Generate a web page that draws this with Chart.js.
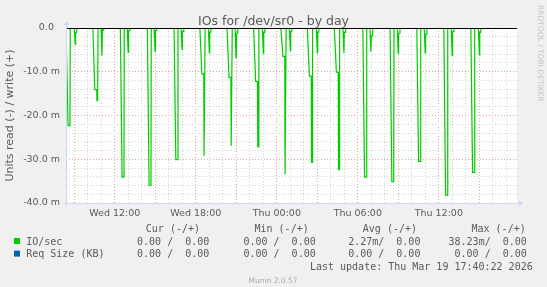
<!DOCTYPE html>
<html>
<head>
<meta charset="utf-8">
<script src="https://cdn.jsdelivr.net/npm/chart.js@4.4.1/dist/chart.umd.min.js"></script>
<style>
html, body { margin: 0; padding: 0; background: #f0f0f0; }
canvas { display: block; }
</style>
</head>
<body>
<canvas id="grafico" width="547" height="287"></canvas>
<script>
// horas contadas desde el miércoles 00:00
const horaInicio = 8.385;
const horaFin = 41.79;

// picos grandes de lectura (valores en m)
const horasPico = [8.63, 10.70, 12.63, 14.63, 16.61, 18.63, 20.64, 22.61, 24.63, 26.59, 28.59, 30.59, 32.61, 34.59, 36.59, 38.59];
const valoresEscalon = [0, 14.1, 0, 0, 0, 10.5, 11.3, 12.2, 6.5, 11.0, 10.1, 0, 0, 0, 0, 0];
const valoresPico = [22.3, 16.6, 34.1, 36.0, 30.1, 29.2, 26.9, 27.1, 33.4, 30.7, 32.4, 34.1, 35.1, 30.5, 38.2, 33.0];

// picos chicos que siguen a cada pico grande
const horasChico = [9.07, 11.05, 12.99, 14.98, 16.98, 19.00, 20.98, 23.00, 25.00, 27.00, 28.97, 30.97, 32.99, 34.99, 36.99, 39.00];
const valoresChico = [3.7, 6.3, 5.6, 5.3, 4.9, 5.7, 6.7, 5.8, 5.2, 5.7, 5.7, 5.4, 5.8, 5.7, 6.3, 6.1];
const valoresCola = [1.0, 0.5, 0.6, 0.6, 0.8, 1.0, 1.2, 1.0, 0.8, 1.0, 1.0, 1.8, 1.2, 1.4, 0.8, 1.0];

const horasEtiqueta = [12, 18, 24, 30, 36];
const etiquetasX = ['Wed 12:00', 'Wed 18:00', 'Thu 00:00', 'Thu 06:00', 'Thu 12:00'];

const nombresLeyenda = ['IO/sec', 'Req Size (KB)'];
const coloresLeyenda = ['#00cc00', '#0066b3'];
const columnasLeyenda = ['Cur (-/+)', 'Min (-/+)', 'Avg (-/+)', 'Max (-/+)'];
const valoresCur = ['0.00 /  0.00', '0.00 /  0.00'];
const valoresMin = ['0.00 /  0.00', '0.00 /  0.00'];
const valoresAvg = ['2.27m/  0.00', '0.00 /  0.00'];
const valoresMax = ['38.23m/  0.00', '0.00 /  0.00'];
const ultimaActualizacion = 'Last update: Thu Mar 19 17:40:22 2026';

const fuente = 'DejaVu Sans';
const fuenteMono = 'DejaVu Sans Mono';
const colorTexto = '#5a5a5a';

// Se arma la serie de lectura (se dibuja en negativo)
const puntos = [{ x: horaInicio, y: 0 }];
horasPico.forEach((p, i) => {
    if (valoresEscalon[i] > 0) {
        puntos.push(
            { x: p - 0.33, y: 0 },
            { x: p - 0.18, y: -valoresEscalon[i] },
            { x: p - 0.04, y: -valoresEscalon[i] },
            { x: p - 0.02, y: -valoresPico[i] },
            { x: p + 0.03, y: -valoresPico[i] },
            { x: p + 0.06, y: 0 }
        );
    } else {
        puntos.push(
            { x: p - 0.22, y: 0 },
            { x: p - 0.09, y: -valoresPico[i] },
            { x: p + 0.05, y: -valoresPico[i] },
            { x: p + 0.07, y: 0 }
        );
    }
    const s = horasChico[i];
    puntos.push(
        { x: s - 0.07, y: 0 },
        { x: s, y: -valoresChico[i] },
        { x: s + 0.03, y: -valoresCola[i] },
        { x: s + 0.10, y: -valoresCola[i] },
        { x: s + 0.13, y: 0 }
    );
});
puntos.push({ x: horaFin, y: 0 });

const colorGrid = '#d4d4d4';
const colorGridMayor = '#eaa4a4';
const colorEje = '#cfd6f8';

const fondo = {
    id: 'fondo',
    beforeDraw(chart) {
        const { ctx, chartArea } = chart;
        ctx.save();
        ctx.fillStyle = '#f0f0f0';
        ctx.fillRect(0, 0, chart.width, chart.height);
        ctx.fillStyle = '#ffffff';
        ctx.fillRect(chartArea.left, chartArea.top, chartArea.right - chartArea.left, chartArea.bottom - chartArea.top);
        ctx.restore();
    }
};

const decoracion = {
    id: 'decoracion',
    afterDatasetsDraw(chart) {
        const { ctx, chartArea } = chart;
        const y0 = Math.round(chart.scales.y.getPixelForValue(0)) + 0.5;
        ctx.save();
        // linea de cero
        ctx.strokeStyle = '#000000';
        ctx.lineWidth = 1;
        ctx.beginPath();
        ctx.moveTo(chartArea.left, y0);
        ctx.lineTo(chartArea.right, y0);
        ctx.stroke();

        // ejes con flechas
        const xl = chartArea.left + 0.5;
        const yb = chartArea.bottom + 0.5;
        ctx.strokeStyle = colorEje;
        ctx.fillStyle = colorEje;
        ctx.beginPath();
        ctx.moveTo(xl, yb + 3);
        ctx.lineTo(xl, chartArea.top - 3);
        ctx.moveTo(xl - 3, yb);
        ctx.lineTo(chartArea.right + 3, yb);
        ctx.stroke();
        ctx.beginPath();
        ctx.moveTo(xl - 3, chartArea.top - 3);
        ctx.lineTo(xl + 3, chartArea.top - 3);
        ctx.lineTo(xl, chartArea.top - 7);
        ctx.closePath();
        ctx.fill();
        ctx.beginPath();
        ctx.moveTo(chartArea.right + 2, yb - 3);
        ctx.lineTo(chartArea.right + 2, yb + 3);
        ctx.lineTo(chartArea.right + 6, yb);
        ctx.closePath();
        ctx.fill();
        ctx.restore();
    },
    afterDraw(chart) {
        const ctx = chart.ctx;
        ctx.save();
        ctx.fillStyle = colorTexto;
        ctx.textBaseline = 'alphabetic';

        ctx.font = '12.5px ' + fuente;
        ctx.textAlign = 'center';
        ctx.fillText('IOs for /dev/sr0 - by day', 273.5, 24.5);

        ctx.font = '10px ' + fuenteMono;
        ctx.textAlign = 'right';
        const finCol = [200, 308.7, 417, 525.7];
        columnasLeyenda.forEach((t, i) => ctx.fillText(t, finCol[i], 232));

        const finVal = [209.3, 315.7, 420.4, 526.8];
        nombresLeyenda.forEach((nombre, i) => {
            const yb = 244.5 + i * 12.6;
            ctx.fillStyle = coloresLeyenda[i];
            ctx.fillRect(14, yb - 6.5, 6, 6);
            ctx.fillStyle = colorTexto;
            ctx.textAlign = 'left';
            ctx.fillText(nombre, 26.2, yb);
            ctx.textAlign = 'right';
            [valoresCur[i], valoresMin[i], valoresAvg[i], valoresMax[i]].forEach((v, k) => {
                ctx.fillText(v, finVal[k], yb);
            });
        });
        ctx.fillText(ultimaActualizacion, 532.7, 269.7);

        ctx.font = '7.5px ' + fuente;
        ctx.textAlign = 'center';
        ctx.fillStyle = '#aaaaaa';
        ctx.fillText('Munin 2.0.57', 273, 283);

        ctx.fillStyle = '#c4c4c4';
        ctx.translate(538, 5);
        ctx.rotate(Math.PI / 2);
        ctx.textAlign = 'left';
        ctx.fillText('RRDTOOL / TOBI OETIKER', 0, 0);
        ctx.restore();
    }
};

new Chart(document.getElementById('grafico').getContext('2d'), {
    type: 'line',
    data: {
        datasets: [{
            label: 'IO/sec',
            data: puntos,
            borderColor: '#00cc00',
            borderWidth: 1.2,
            pointRadius: 0,
            fill: false,
            tension: 0
        }]
    },
    options: {
        responsive: false,
        animation: false,
        devicePixelRatio: 1,
        layout: { padding: { top: 28, right: 30, left: 0, bottom: 0 } },
        plugins: { legend: { display: false }, tooltip: { enabled: false } },
        scales: {
            x: {
                type: 'linear',
                min: horaInicio,
                max: horaFin,
                afterFit: (s) => { s.height = 84; },
                ticks: {
                    stepSize: 1,
                    includeBounds: false,
                    autoSkip: false,
                    maxRotation: 0,
                    minRotation: 0,
                    maxTicksLimit: 100,
                    padding: 5,
                    color: colorTexto,
                    font: { family: fuente, size: 9.5 },
                    callback: (v) => {
                        const k = horasEtiqueta.indexOf(v);
                        return k >= 0 ? etiquetasX[k] : '';
                    }
                },
                grid: {
                    drawTicks: false,
                    color: (c) => (c.tick && c.tick.value % 3 === 0 ? colorGridMayor : colorGrid)
                },
                border: { display: false, dash: [1, 2] }
            },
            y: {
                min: -40,
                max: 0,
                afterFit: (s) => { s.width = 66; },
                ticks: {
                    stepSize: 2,
                    maxTicksLimit: 100,
                    autoSkip: false,
                    padding: 6,
                    color: colorTexto,
                    font: { family: fuente, size: 9.5 },
                    callback: (v) => {
                        if (v % 10 !== 0) return '';
                        return v === 0 ? '0.0  ' : v.toFixed(1) + ' m';
                    }
                },
                grid: {
                    drawTicks: false,
                    color: (c) => (c.tick && c.tick.value % 10 === 0 ? colorGridMayor : colorGrid)
                },
                border: { display: false, dash: [1, 2] },
                title: {
                    display: true,
                    text: 'Units read (-) / write (+)',
                    color: colorTexto,
                    font: { family: fuente, size: 11 },
                    padding: { top: 4, bottom: 0 }
                }
            }
        }
    },
    plugins: [fondo, decoracion]
});
</script>
</body>
</html>
